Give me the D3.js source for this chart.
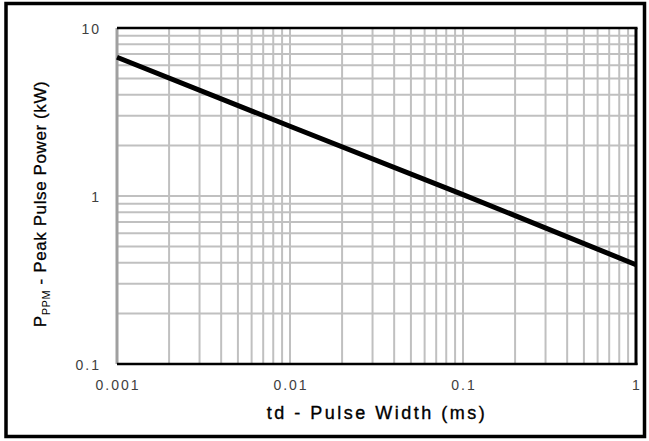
<!DOCTYPE html>
<html><head><meta charset="utf-8">
<script src="https://cdn.jsdelivr.net/npm/d3@7"></script>
<style>body{margin:0;background:#fff}svg{display:block}</style>
</head><body>
<script>
const pulseWidth = [0.001, 0.01, 0.1, 1];
const peakPower = [6.7, 2.6, 1.02, 0.39];
const xTickLabels = ["0.001", "0.01", "0.1", "1"];
const yTickLabels = ["0.1", "1", "10"];

const W = 649, H = 441;
const m = {l: 117, t: 28, r: 636, b: 364};
const svg = d3.select("body").append("svg").attr("width", W).attr("height", H);
svg.append("rect").attr("x", 6).attr("y", 3.5).attr("width", 638.5).attr("height", 433)
  .attr("fill", "#fff").attr("stroke", "#000").attr("stroke-width", 3.5);

const x = d3.scaleLog().domain([0.001, 1]).range([m.l, m.r]);
const y = d3.scaleLog().domain([0.1, 10]).range([m.b, m.t]);

const g = svg.append("g");
const xt = x.ticks(), yt = y.ticks();
g.selectAll(".vx").data(xt).join("line")
  .attr("x1", d => x(d)).attr("x2", d => x(d)).attr("y1", m.t).attr("y2", m.b)
  .attr("stroke", "#c0c0c0").attr("stroke-width", 2);
g.selectAll(".hy").data(yt).join("line")
  .attr("y1", d => y(d)).attr("y2", d => y(d)).attr("x1", m.l).attr("x2", m.r)
  .attr("stroke", "#c0c0c0").attr("stroke-width", 2);

// frame of plot
g.append("line").attr("x1", m.l).attr("x2", m.l).attr("y1", m.t).attr("y2", m.b)
  .attr("stroke", "#a0a0a0").attr("stroke-width", 3);
g.append("line").attr("x1", m.l).attr("x2", m.r + 1.5).attr("y1", m.t).attr("y2", m.t)
  .attr("stroke", "#000").attr("stroke-width", 2.5);
g.append("line").attr("x1", m.l).attr("x2", m.r + 1.5).attr("y1", m.b).attr("y2", m.b)
  .attr("stroke", "#000").attr("stroke-width", 2.5);
g.append("line").attr("x1", m.r).attr("x2", m.r).attr("y1", m.t).attr("y2", m.b + 1)
  .attr("stroke", "#000").attr("stroke-width", 3);

// data line
const line = d3.line().x((d, i) => x(pulseWidth[i])).y(d => y(d));
g.append("path").datum(peakPower).attr("d", line)
  .attr("fill", "none").attr("stroke", "#000").attr("stroke-width", 5);

// tick labels
const font = "Arial, 'Liberation Sans', sans-serif";
svg.selectAll(".xl").data(xTickLabels).join("text")
  .attr("x", d => x(+d) + 1).attr("y", 390).attr("text-anchor", "middle")
  .attr("font-family", font).attr("font-size", 14).attr("letter-spacing", 2)
  .attr("fill", "#404040").text(d => d);
svg.selectAll(".yl").data(yTickLabels).join("text")
  .attr("x", 101).attr("y", d => y(+d) + 5.5).attr("text-anchor", "end")
  .attr("font-family", font).attr("font-size", 14).attr("letter-spacing", 2)
  .attr("fill", "#404040").text(d => d);

// axis titles
svg.append("text").attr("x", 377).attr("y", 419).attr("text-anchor", "middle")
  .attr("font-family", font).attr("font-size", 18)
  .attr("stroke", "#000").attr("stroke-width", 0.35)
  .attr("letter-spacing", 2.5).attr("fill", "#000").text("td - Pulse Width (ms)");
const yt2 = svg.append("text").attr("transform", "translate(46,204) rotate(-90)")
  .attr("text-anchor", "middle").attr("font-family", font).attr("font-size", 17)
  .attr("stroke", "#000").attr("stroke-width", 0.3)
  .attr("letter-spacing", 0.6).attr("fill", "#000");
yt2.append("tspan").text("P");
yt2.append("tspan").attr("font-size", 11).attr("stroke-width", 0).attr("dy", 4).text("PPM");
yt2.append("tspan").attr("dy", -4).text(" - Peak Pulse Power (kW)");
</script>
</body></html>
